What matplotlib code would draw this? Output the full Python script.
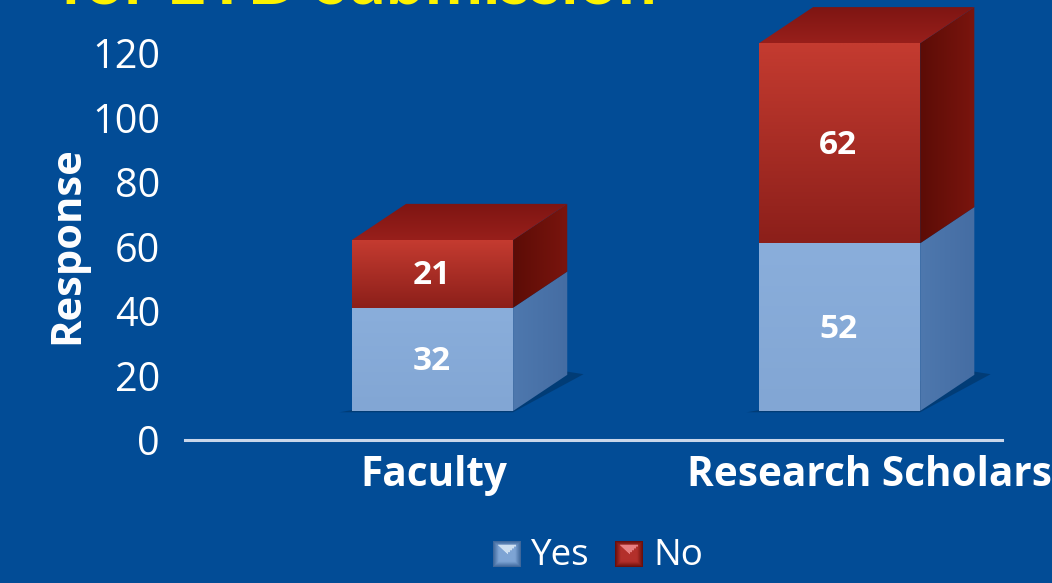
import numpy as np
import matplotlib
matplotlib.use('Agg')
import matplotlib.pyplot as plt
from matplotlib.colors import to_rgb
from matplotlib.patches import Polygon

categories = ['Faculty', 'Research Scholars']
yes_vals = [32, 52]
no_vals = [21, 62]
yticks = [0, 20, 40, 60, 80, 100, 120]

BG = '#024c96'
W, H = 1052, 583
floor = 9.0     # bars float above the axis line
bar_w = 0.396
dx, dy = 0.133, 11.2    # 3d depth

plt.rcParams['font.family'] = ['Open Sans', 'DejaVu Sans']

fig = plt.figure(figsize=(W / 100, H / 100), dpi=100, facecolor=BG)
ax = fig.add_axes([185 / W, (H - 440) / H, 817 / W, 440 / H])
ax.set_facecolor(BG)
ax.set_xlim(-0.608, 1.399)
ax.set_ylim(0, 136.4)


def grad_fill(pts, c1, c2, horizontal=False, z=2):
    # gradient image clipped to a polygon, c1 = top/left, c2 = bottom/right
    pts = np.array(pts)
    t = np.linspace(0, 1, 64)[:, None, None]
    img = (1 - t) * np.array(to_rgb(c1))[None, None, :] + t * np.array(to_rgb(c2))[None, None, :]
    if horizontal:
        img = img.transpose(1, 0, 2)
    ext = [pts[:, 0].min(), pts[:, 0].max(), pts[:, 1].min(), pts[:, 1].max()]
    im = ax.imshow(img, extent=ext, origin='upper', aspect='auto', zorder=z, interpolation='bilinear')
    poly = Polygon(pts, closed=True, transform=ax.transData, fc='none', ec='none')
    ax.add_patch(poly)
    im.set_clip_path(poly)


def segment(x, b, t, front, side, top=None):
    l, r = x - bar_w / 2, x + bar_w / 2
    grad_fill([(l, b), (r, b), (r, t), (l, t)], front[0], front[1])
    grad_fill([(r, b), (r + dx, b + dy), (r + dx, t + dy), (r, t)], side[0], side[1], horizontal=True)
    if top is not None:
        grad_fill([(l, t), (r, t), (r + dx, t + dy), (l + dx, t + dy)], top[0], top[1])


for i in range(len(categories)):
    y0 = floor
    y1 = y0 + yes_vals[i]
    y2 = y1 + no_vals[i]
    l, r = i - bar_w / 2, i + bar_w / 2
    # soft shadow under the box
    ax.add_patch(Polygon([(l - 0.03, y0 - 0.4), (r, y0 - 0.4), (r + dx + 0.04, y0 + dy + 0.2), (r + dx, y0 + dy + 1)],
                         closed=True, fc='#01386f', ec='none', alpha=0.8, zorder=1))
    segment(i, y0, y1, ('#8aaedb', '#82a6d4'), ('#4e78ae', '#456da3'))
    segment(i, y1, y2, ('#c43b30', '#8c1f1a'), ('#5c0c06', '#7a150e'), ('#7e1512', '#981f1b'))
    ax.text(i - 0.003, (y0 + y1) / 2 - 0.6, str(yes_vals[i]), color='white', fontsize=24, fontweight='bold',
            ha='center', va='center', zorder=5)
    ax.text(i - 0.003, (y1 + y2) / 2 - 0.6, str(no_vals[i]), color='white', fontsize=24, fontweight='bold',
            ha='center', va='center', zorder=5)

for s in ['top', 'right', 'left']:
    ax.spines[s].set_visible(False)
ax.spines['bottom'].set_color('#c9d6ea')
ax.spines['bottom'].set_linewidth(2.2)
ax.set_yticks(yticks)
ax.tick_params(axis='y', length=0, pad=18, labelsize=28.5, labelcolor='white')
ax.set_xticks([0.004, 1.0725], categories)
ax.tick_params(axis='x', length=0, pad=11, labelsize=29.2, labelcolor='white')
for lab in ax.get_xticklabels():
    lab.set_fontweight('bold')

fig.text(68 / W, 1 - 245 / H, 'Response', color='white', fontsize=30, fontweight='bold',
         rotation=90, ha='center', va='center')
fig.text(60 / W, 1 - 4 / H, 'for ETD submission', color='#fdf200', fontsize=49.6, fontweight='bold',
         family=['Lato', 'DejaVu Sans'], ha='left', va='baseline')


def swatch(x, c_edge, c_mid, c_light):
    # small bevelled legend key
    sw = fig.add_axes([x / W, 1 - 567 / H, 28 / W, 26 / H])
    sw.axis('off')
    n = 28
    yy, xx = np.mgrid[0:n, 0:n] / (n - 1)
    e = np.array(to_rgb(c_edge))
    m = np.array(to_rgb(c_mid))
    li = np.array(to_rgb(c_light))
    edge = np.minimum.reduce([xx, 1 - xx, yy, 1 - yy])[..., None]
    k = np.clip(edge / 0.2, 0, 1)
    img = (1 - k) * e + k * m
    tri = (yy < 0.5 - np.abs(xx - 0.5)) & (yy > 0.12)
    img[tri] = li
    sw.imshow(img, aspect='auto', interpolation='bilinear')


swatch(493, '#3f689c', '#7ea4d4', '#cfe0f2')
swatch(615, '#6a0f0c', '#b3302b', '#e87f80')
fig.text(530 / W, 1 - 565 / H, 'Yes', color='white', fontsize=26.5, ha='left', va='baseline')
fig.text(653 / W, 1 - 565 / H, 'No', color='white', fontsize=26.5, ha='left', va='baseline')

fig.savefig('out.png', dpi=100, facecolor=BG)
